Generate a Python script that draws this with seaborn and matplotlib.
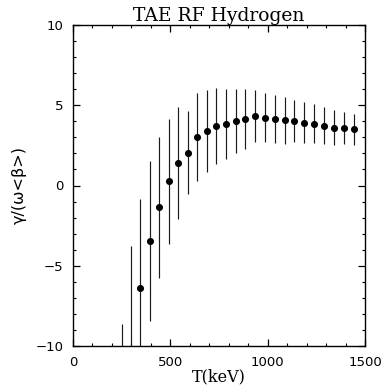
import numpy as np
import pandas as pd
import matplotlib
matplotlib.use("Agg")
import matplotlib.pyplot as plt
import seaborn as sns
from matplotlib.ticker import MultipleLocator

# Data
T_keV = [250, 300, 345, 395, 443, 491, 539, 589, 638, 686, 735, 786, 835, 885,
         935, 986, 1037, 1087, 1137, 1188, 1238, 1289, 1340, 1391, 1442]
growth = [-14.0, -10.5, -6.4, -3.45, -1.37, 0.25, 1.4, 2.05, 3.0, 3.38, 3.7, 3.85,
          4.02, 4.13, 4.33, 4.21, 4.13, 4.06, 4.02, 3.92, 3.85, 3.73, 3.6, 3.58, 3.5]
err = [5.4, 6.75, 5.55, 4.97, 4.38, 3.91, 3.46, 2.6, 2.75, 2.56, 2.35, 2.17,
       1.99, 1.86, 1.64, 1.53, 1.49, 1.46, 1.32, 1.28, 1.21, 1.15, 1.1, 1.0, 0.95]

title = "TAE RF Hydrogen"
xlabel = "T(keV)"
ylabel = "\u03b3/(\u03c9<\u03b2>)"

df = pd.DataFrame({"T": T_keV, "g": growth, "e": err})

sns.set_theme(style="white")
plt.rcParams["font.family"] = ["DejaVu Sans"]
plt.rcParams["text.color"] = "black"
plt.rcParams["axes.labelcolor"] = "black"
plt.rcParams["xtick.color"] = "black"
plt.rcParams["ytick.color"] = "black"

fig = plt.figure(figsize=(3.86, 3.92), dpi=100)
ax = fig.add_axes([73/386, 1 - 346/392, (365 - 73)/386, (346 - 25)/392])

ax.errorbar(df["T"], df["g"], yerr=df["e"], fmt="none", ecolor="#1a1a1a",
            elinewidth=0.85, capsize=0, zorder=2)
sns.scatterplot(data=df, x="T", y="g", ax=ax, color="black", s=26,
                edgecolor="black", linewidth=0, zorder=3, legend=False)

ax.set_xlim(0, 1500)
ax.set_ylim(-10, 10)
ax.xaxis.set_major_locator(MultipleLocator(500))
ax.xaxis.set_minor_locator(MultipleLocator(100))
ax.yaxis.set_major_locator(MultipleLocator(5))
ax.yaxis.set_minor_locator(MultipleLocator(1))
ax.tick_params(which="both", direction="in", top=True, right=True,
               bottom=True, left=True, colors="black", labelcolor="black")
ax.tick_params(which="major", length=5, width=0.9, labelsize=9.5, pad=7)
ax.tick_params(which="minor", length=2.5, width=0.8)
for s in ax.spines.values():
    s.set_color("black")
    s.set_linewidth(1.0)

ax.set_title(title, family="DejaVu Serif", fontsize=13.5, pad=3, color="black")
ax.set_xlabel(xlabel, family="DejaVu Serif", fontsize=11.5, labelpad=0, color="black")
ax.set_ylabel(ylabel, fontsize=11.5, labelpad=6, color="black")

fig.savefig("out.png", dpi=100, facecolor="white")
